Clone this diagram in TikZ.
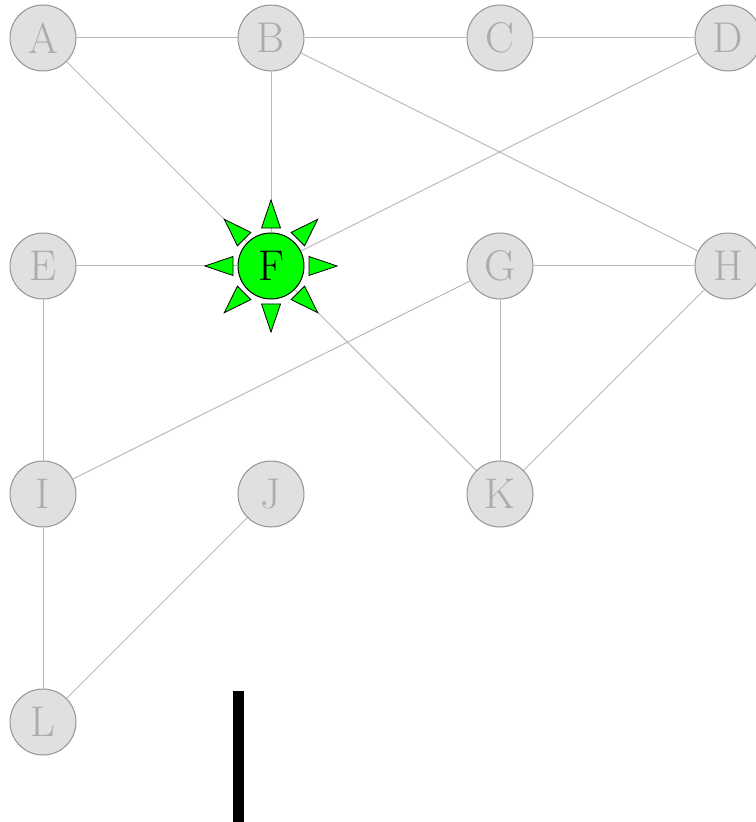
\documentclass[tikz,border=0pt]{standalone}
\begin{document}
\begin{tikzpicture}[x=0.5pt,y=-0.5pt,
  vertex/.style={circle,minimum size=33pt,inner sep=0pt,line width=0.5pt,draw=black!42,fill=black!12,text=black!33,font=\fontsize{21.5}{24}\selectfont},
  hub/.style={vertex,fill=green,draw=black,text=black},
  link/.style={black!27,line width=0.5pt},
  ray/.style={fill=green,draw=black,line width=0.4pt}]
  \useasboundingbox (0,0) rectangle (755,822);
  % vertices
  \node[vertex] (A) at (43,38) {A};
  \node[vertex] (B) at (271,38) {B};
  \node[vertex] (C) at (500,38) {C};
  \node[vertex] (D) at (728,38) {D};
  \node[vertex] (E) at (43,266) {E};
  \node[hub]    (F) at (271,266) {F};
  \node[vertex] (G) at (500,266) {G};
  \node[vertex] (H) at (728,266) {H};
  \node[vertex] (I) at (43,494) {I};
  \node[vertex] (J) at (271,494) {J};
  \node[vertex] (K) at (500,494) {K};
  \node[vertex] (L) at (43,722) {L};
  % edges
  \draw[link] (A) -- (B); \draw[link] (B) -- (C); \draw[link] (C) -- (D);
  \draw[link] (A) -- (F); \draw[link] (B) -- (F); \draw[link] (D) -- (F);
  \draw[link] (B) -- (H); \draw[link] (E) -- (F); \draw[link] (F) -- (K);
  \draw[link] (G) -- (H); \draw[link] (G) -- (I); \draw[link] (G) -- (K);
  \draw[link] (H) -- (K); \draw[link] (E) -- (I); \draw[link] (I) -- (L);
  \draw[link] (J) -- (L);
  % rays round F
  \foreach \a in {0,45,...,315}{
    \filldraw[ray,shift={(271,266)},rotate=\a] (38,-9.5) -- (66,0) -- (38,9.5) -- cycle;
  }
  % bar
  \fill (233,691) rectangle (244,822);
\end{tikzpicture}
\end{document}
